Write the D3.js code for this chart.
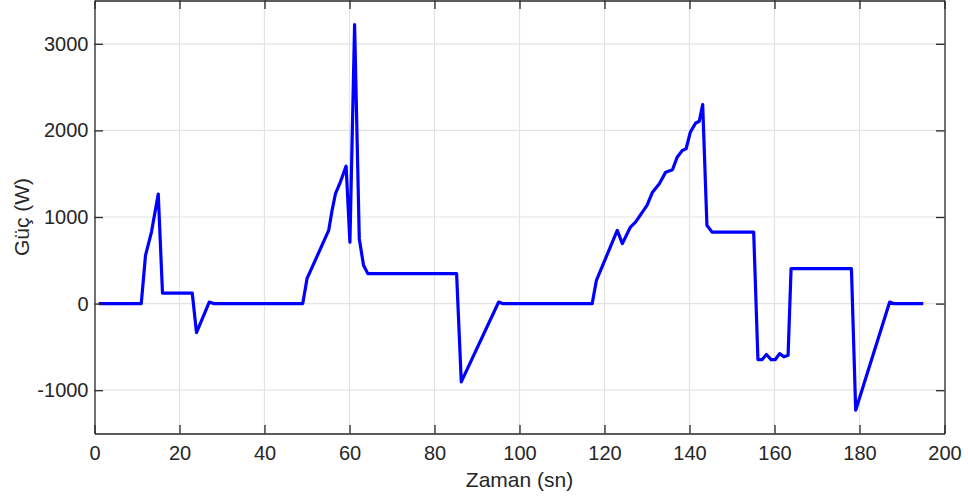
<!DOCTYPE html>
<html>
<head>
<meta charset="utf-8">
<script src="https://cdn.jsdelivr.net/npm/d3@7"></script>
<style>
  html, body { margin: 0; padding: 0; background: #ffffff; }
  svg { display: block; }
  text { font-family: "Liberation Sans", Arial, Helvetica, sans-serif; fill: #262626; }
</style>
</head>
<body>
<svg id="chart" width="968" height="501"></svg>
<script>
// ---- data ----
const timeSec = [1, 11, 12, 13.4, 15, 16, 23, 24, 27, 28, 49, 50, 55.1, 55.9, 56.7, 57.7, 59.2, 60.1, 61.2, 62.3, 63.3, 64.3,
  85.2, 86.3, 95.1, 96, 117.1, 118.1, 123, 124.2, 126.1, 127.3, 130, 131.3, 132.9, 134.4, 136, 137.1, 138.3, 139.2,
  140.2, 141.4, 142.3, 143.1, 144.1, 145.3, 155.1, 156.1, 157.1, 158.1, 159.2, 160.2, 161.2, 162.2, 163.2, 163.9,
  178.1, 179.1, 187.1, 188, 195];
const powerW = [0, 0, 557, 826, 1265, 122, 122, -335, 18, 0, 0, 288, 845, 1077, 1269, 1384, 1587, 710, 3221, 750, 442, 346,
  346, -904, 18, 0, 0, 269, 845, 692, 884, 941, 1134, 1287, 1384, 1518, 1545, 1691, 1768, 1788,
  1979, 2083, 2106, 2299, 903, 826, 826, -646, -646, -588, -646, -646, -577, -615, -596, 404,
  404, -1231, 18, 0, 0];
const xTicks = [0, 20, 40, 60, 80, 100, 120, 140, 160, 180, 200];
const yTicks = [-1000, 0, 1000, 2000, 3000];
const xLabel = "Zaman (sn)";
const yLabel = "Güç (W)";

// ---- layout ----
const pLeft = 94.5, pRight = 944.5, pTop = 0.5, pBottom = 433.5;
const svg = d3.select("#chart");
const x = d3.scaleLinear().domain([0, 200]).range([pLeft, pRight]);
const y = d3.scaleLinear().domain([-1500, 3500]).range([pBottom, pTop]);
const axisColor = "#262626";
const gridColor = "#e3e3e3";
const tickFont = 20;
const labelFont = 21;
const fmt = d => String(d);

// grid
const grid = svg.append("g");
grid.selectAll("line.gx").data(xTicks.filter(d => d > 0 && d < 200)).join("line")
  .attr("x1", d => x(d)).attr("x2", d => x(d)).attr("y1", pTop).attr("y2", pBottom)
  .attr("stroke", gridColor).attr("stroke-width", 1.2);
grid.selectAll("line.gy").data(yTicks).join("line")
  .attr("y1", d => y(d)).attr("y2", d => y(d)).attr("x1", pLeft).attr("x2", pRight)
  .attr("stroke", gridColor).attr("stroke-width", 1.2);

// data line
const line = d3.line().x((d, i) => x(timeSec[i])).y(d => y(d));
svg.append("path").datum(powerW)
  .attr("d", line)
  .attr("fill", "none")
  .attr("stroke", "#0000ff")
  .attr("stroke-width", 3.2)
  .attr("stroke-linejoin", "round")
  .attr("stroke-linecap", "butt");

// axes (MATLAB-style box with inward ticks)
const tickLen = 8.5;
const axB = svg.append("g").attr("transform", `translate(0,${pBottom})`)
  .call(d3.axisBottom(x).tickValues(xTicks).tickSizeInner(-tickLen).tickSizeOuter(0).tickPadding(12).tickFormat(fmt));
const axT = svg.append("g").attr("transform", `translate(0,${pTop})`)
  .call(d3.axisTop(x).tickValues(xTicks).tickSizeInner(-tickLen).tickSizeOuter(0).tickFormat(""));
const axL = svg.append("g").attr("transform", `translate(${pLeft},0)`)
  .call(d3.axisLeft(y).tickValues(yTicks).tickSizeInner(-tickLen).tickSizeOuter(0).tickPadding(6).tickFormat(fmt));
const axR = svg.append("g").attr("transform", `translate(${pRight},0)`)
  .call(d3.axisRight(y).tickValues(yTicks).tickSizeInner(-tickLen).tickSizeOuter(0).tickFormat(""));
[axB, axT, axL, axR].forEach(g => {
  g.select(".domain").attr("stroke", axisColor).attr("stroke-width", 1.3);
  g.selectAll(".tick line").attr("stroke", axisColor).attr("stroke-width", 1.3);
  g.selectAll(".tick text").attr("fill", "#262626").style("font-size", tickFont + "px")
    .style("font-family", '"Liberation Sans", Arial, sans-serif');
});
axB.selectAll(".tick text").attr("dy", "0.71em");

// axis titles
svg.append("text").attr("x", (pLeft + pRight) / 2).attr("y", 487)
  .attr("text-anchor", "middle").style("font-size", labelFont + "px").text(xLabel);
svg.append("text").attr("transform", `translate(29,${(pTop + pBottom) / 2}) rotate(-90)`)
  .attr("text-anchor", "middle").style("font-size", labelFont + "px").text(yLabel);
</script>
</body>
</html>
